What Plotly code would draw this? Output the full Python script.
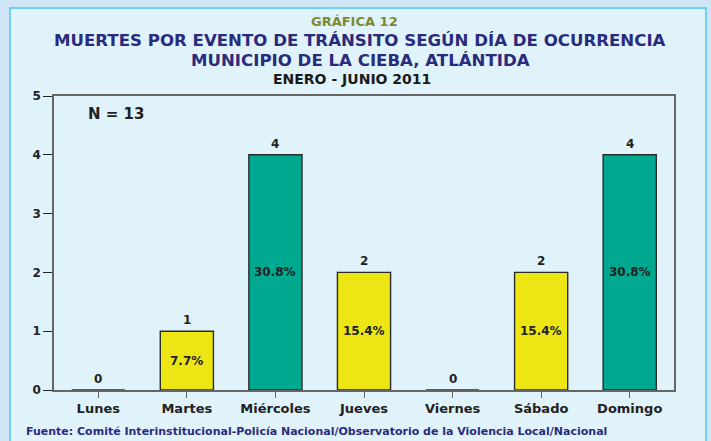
import plotly.graph_objects as go

dias = ["Lunes", "Martes", "Miércoles", "Jueves", "Viernes", "Sábado", "Domingo"]
muertes = [0, 1, 4, 2, 0, 2, 4]
porcentajes = ["", "7.7%", "30.8%", "15.4%", "", "15.4%", "30.8%"]
colores = ["#222222", "#ede614", "#00a88f", "#ede614", "#222222", "#ede614", "#00a88f"]

FONT = "DejaVu Sans, Arial, sans-serif"
W, H = 711, 441
L, R, T, B = 54, 37, 96, 51
pw, ph = W - L - R, H - T - B


def px(x):
    return (x - L) / pw


def py(y):
    return (H - B - y) / ph


fig = go.Figure()
fig.add_trace(
    go.Bar(
        x=dias,
        y=muertes,
        width=0.6,
        marker=dict(color=colores, line=dict(color="#2a2a2a", width=1.4)),
        hoverinfo="x+y",
    )
)

# count above each bar
for d, v in zip(dias, muertes):
    fig.add_annotation(x=d, y=v, text=f"<b>{v}</b>", showarrow=False,
                       yanchor="bottom", yshift=2,
                       font=dict(family=FONT, size=12, color="#222222"))
# percentage inside bars
for d, v, p in zip(dias, muertes, porcentajes):
    if p:
        fig.add_annotation(x=d, y=v / 2, text=f"<b>{p}</b>", showarrow=False,
                           yanchor="middle",
                           font=dict(family=FONT, size=12, color="#222222"))

# background panel
fig.add_shape(type="rect", xref="paper", yref="paper",
              x0=px(10), x1=px(706), y0=py(446), y1=py(8),
              fillcolor="#e0f3fb", line=dict(color="#4cc6f0", width=1.5),
              layer="below")

titles = [
    ("<b>GRÁFICA 12</b>", 354, 22, 13, "#7f8a2e"),
    ("<b>MUERTES POR EVENTO DE TRÁNSITO SEGÚN DÍA DE OCURRENCIA</b>", 360, 41, 16.6, "#2b2b7c"),
    ("<b>MUNICIPIO DE LA CIEBA, ATLÁNTIDA</b>", 360, 60, 16.6, "#2b2b7c"),
    ("<b>ENERO - JUNIO 2011</b>", 352, 79, 14, "#1a1a1a"),
]
for txt, x, y, size, col in titles:
    fig.add_annotation(xref="paper", yref="paper", x=px(x), y=py(y),
                       text=txt, showarrow=False, xanchor="center", yanchor="middle",
                       font=dict(family=FONT, size=size, color=col))

fig.add_annotation(xref="paper", yref="paper", x=px(86), y=py(114),
                   text="<b>N = 13</b>", showarrow=False, xanchor="left", yanchor="middle",
                   font=dict(family=FONT, size=15, color="#222222"))

fig.add_annotation(xref="paper", yref="paper", x=px(24), y=py(431),
                   text="<b>Fuente: Comité Interinstitucional-Policía Nacional/Observatorio de la Violencia Local/Nacional</b>",
                   showarrow=False, xanchor="left", yanchor="middle",
                   font=dict(family=FONT, size=11, color="#2b2b7c"))

fig.update_layout(
    width=W, height=H,
    margin=dict(l=L, r=R, t=T, b=B),
    paper_bgcolor="#cfe4f4",
    plot_bgcolor="#e0f3fb",
    showlegend=False,
    font=dict(family=FONT),
)
fig.update_xaxes(
    showline=True, linecolor="#666666", linewidth=1.5, mirror=True,
    ticks="outside", ticklen=6, tickcolor="#666666",
    tickfont=dict(family=FONT, size=13, color="#222222", weight="bold"),
    showgrid=False,
)
fig.update_yaxes(
    range=[0, 5], dtick=1, showline=True, linecolor="#666666", linewidth=1.5, mirror=True,
    ticks="outside", ticklen=9, tickcolor="#222222",
    tickfont=dict(family=FONT, size=12, color="#222222", weight="bold"),
    showgrid=False, zeroline=False,
)

fig.write_html("out.html", config={"displayModeBar": False},
               post_script="document.body.style.margin='0';")
